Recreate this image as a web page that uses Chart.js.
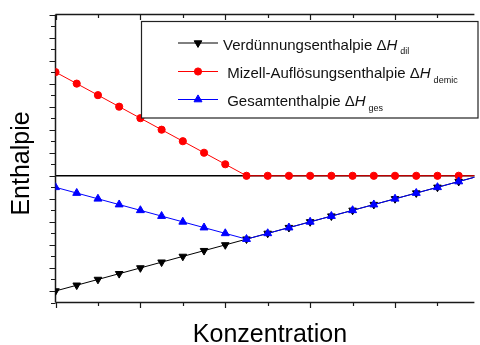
<!DOCTYPE html>
<html>
<head>
<meta charset="utf-8">
<script src="https://cdn.jsdelivr.net/npm/chart.js@4.4.1/dist/chart.umd.min.js"></script>
<style>
  html, body { margin: 0; padding: 0; background: #fff; }
</style>
</head>
<body>
<canvas id="chartEnthalpie" width="480" height="345"></canvas>
<script>
const konzentration = [0, 0.5, 1, 1.5, 2, 2.5, 3, 3.5, 4, 4.5, 5, 5.5, 6, 6.5, 7, 7.5, 8, 8.5, 9, 9.5, 10];
const deltaHdil = [-10, -9.5, -9, -8.5, -8, -7.5, -7, -6.5, -6, -5.5, -5, -4.5, -4, -3.5, -3, -2.5, -2, -1.5, -1, -0.5, 0];
const deltaHdemic = [9, 8, 7, 6, 5, 4, 3, 2, 1, 0, 0, 0, 0, 0, 0, 0, 0, 0, 0, 0, 0];
const deltaHges = [-1, -1.5, -2, -2.5, -3, -3.5, -4, -4.5, -5, -5.5, -5, -4.5, -4, -3.5, -3, -2.5, -2, -1.5, -1, -0.5, 0];

const legendNamen = ['Verdünnungsenthalpie', ' Mizell-Auflösungsenthalpie', ' Gesamtenthalpie'];
const legendIndex = ['dil', 'demic', 'ges'];

const xTicks = [0, 1, 2, 3, 4, 5, 6, 7, 8, 9];
const yTicks = [-11, -10, -9, -8, -7, -6, -5, -4, -3, -2, -1, 0, 1, 2, 3, 4, 5, 6, 7, 8, 9, 10, 11, 12, 13, 14];

const schrift = '"Liberation Sans", Arial, sans-serif';

function toPoints(xs, ys) {
    return xs.map(function (v, i) { return { x: v, y: ys[i] }; });
}

// Achsen, Ticks und Nulllinie unter den Kurven
const achsenPlugin = {
    id: 'achsen',
    beforeDatasetsDraw: function (chart) {
        const ctx = chart.ctx;
        const a = chart.chartArea;
        const x = chart.scales.x;
        const y = chart.scales.y;
        ctx.save();
        ctx.strokeStyle = '#000';

        // Nulllinie
        ctx.lineWidth = 1.6;
        const y0 = y.getPixelForValue(0);
        ctx.beginPath();
        ctx.moveTo(a.left, y0);
        ctx.lineTo(a.right, y0);
        ctx.stroke();

        ctx.strokeStyle = '#1a1a1a';
        ctx.lineWidth = 1.5;
        ctx.beginPath();
        ctx.moveTo(a.left, a.top);
        ctx.lineTo(a.left, a.bottom);
        ctx.moveTo(a.left, a.bottom);
        ctx.lineTo(a.right, a.bottom);
        ctx.moveTo(a.left, a.top);
        ctx.lineTo(a.right, a.top);
        ctx.stroke();

        ctx.lineWidth = 1.2;
        ctx.beginPath();
        yTicks.forEach(function (t) {
            const py = Math.round(y.getPixelForValue(t)) + 0.5;
            const len = (t % 2 === 0) ? 6 : 4.5;
            ctx.moveTo(a.left, py);
            ctx.lineTo(a.left - len, py);
        });
        xTicks.forEach(function (t) {
            const px = Math.round(x.getPixelForValue(t)) + 0.5;
            const len = (t % 2 === 0) ? 5.5 : 3.5;
            ctx.moveTo(px, a.bottom);
            ctx.lineTo(px, a.bottom + len);
            ctx.moveTo(px, a.top);
            ctx.lineTo(px, a.top + len);
        });
        ctx.stroke();
        ctx.restore();
    },
    afterDraw: function (chart) {
        const ctx = chart.ctx;
        const a = chart.chartArea;
        ctx.save();
        ctx.fillStyle = '#000';
        ctx.font = '25px ' + schrift;
        ctx.textAlign = 'center';
        ctx.textBaseline = 'alphabetic';
        ctx.fillText('Konzentration', 270, 342);

        ctx.translate(29, (a.top + a.bottom) / 2 + 5);
        ctx.rotate(-Math.PI / 2);
        ctx.fillText('Enthalpie', 0, 0);
        ctx.restore();
    }
};

// Legende mit tiefgestellten Indizes
const legendePlugin = {
    id: 'legende',
    afterDraw: function (chart) {
        const ctx = chart.ctx;
        ctx.save();
        ctx.fillStyle = '#fff';
        ctx.fillRect(141.5, 21.5, 336.5, 96.5);
        ctx.strokeStyle = '#222';
        ctx.lineWidth = 1.2;
        ctx.strokeRect(141.5, 21.5, 336.5, 96.5);

        const zeilen = [43, 71.5, 99.5];
        const reihen = [0, 1, 2];
        reihen.forEach(function (i) {
            const ds = chart.data.datasets[i];
            const yy = zeilen[i];
            ctx.strokeStyle = ds.borderColor;
            ctx.lineWidth = 1;
            ctx.beginPath();
            ctx.moveTo(178, yy);
            ctx.lineTo(218, yy);
            ctx.stroke();
            ctx.fillStyle = ds.borderColor;
            Chart.helpers.drawPoint(ctx, {
                pointStyle: ds.pointStyle,
                rotation: ds.pointRotation || 0,
                radius: ds.pointRadius,
                borderWidth: ds.pointBorderWidth
            }, 198, yy);

            ctx.fillStyle = '#111';
            ctx.textBaseline = 'alphabetic';
            ctx.textAlign = 'left';
            const base = yy + 6.5;
            let tx = 223;
            ctx.font = '15px ' + schrift;
            const teil = legendNamen[i] + ' \u0394';
            ctx.fillText(teil, tx, base);
            tx += ctx.measureText(teil).width;
            ctx.font = 'italic 15px ' + schrift;
            ctx.fillText('H', tx, base);
            tx += ctx.measureText('H').width + 3;
            ctx.font = '9px ' + schrift;
            ctx.fillText(legendIndex[i], tx, base + 4.5);
        });
        ctx.restore();
    }
};

const ctxEnthalpie = document.getElementById('chartEnthalpie');

new Chart(ctxEnthalpie, {
    type: 'line',
    data: {
        datasets: [{
            label: 'Verdünnungsenthalpie \u0394H dil',
            data: toPoints(konzentration, deltaHdil),
            borderColor: '#000000',
            backgroundColor: '#000000',
            borderWidth: 1,
            pointStyle: 'triangle',
            pointRotation: 180,
            pointRadius: 4.4,
            pointBorderWidth: 1,
            order: 3
        }, {
            label: 'Mizell-Auflösungsenthalpie \u0394H demic',
            data: toPoints(konzentration, deltaHdemic),
            borderColor: '#ff0000',
            backgroundColor: '#ff0000',
            borderWidth: 1,
            pointStyle: 'circle',
            pointRadius: 3.6,
            pointBorderWidth: 1,
            order: 2
        }, {
            label: 'Gesamtenthalpie \u0394H ges',
            data: toPoints(konzentration, deltaHges),
            borderColor: '#0000ff',
            backgroundColor: '#0000ff',
            borderWidth: 1,
            pointStyle: 'triangle',
            pointRadius: 4.6,
            pointBorderWidth: 1,
            order: 1
        }]
    },
    options: {
        responsive: false,
        animation: false,
        devicePixelRatio: 1,
        layout: { padding: { left: 55.5, right: 0, top: 14.5, bottom: 42.5 } },
        scales: {
            x: { type: 'linear', display: false, min: 0, max: 9.87 },
            y: { type: 'linear', display: false, min: -11, max: 14 }
        },
        plugins: {
            legend: { display: false },
            tooltip: { enabled: false }
        }
    },
    plugins: [achsenPlugin, legendePlugin]
});
</script>
</body>
</html>
